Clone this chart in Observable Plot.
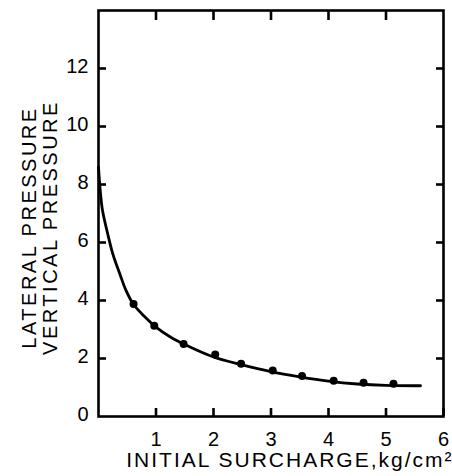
<!DOCTYPE html>
<html>
<head>
<meta charset="utf-8">
<script src="https://cdn.jsdelivr.net/npm/d3@7"></script>
<script src="https://cdn.jsdelivr.net/npm/@observablehq/plot@0.6"></script>
<style>
  html, body { margin: 0; padding: 0; background: #fff; }
</style>
</head>
<body>
<div id="chart"></div>
<script>
// Fitted curve
const curveX = [0.0, 0.03, 0.07, 0.16, 0.25, 0.37, 0.48, 0.61, 0.8, 1.0, 1.25, 1.5, 2.0, 2.5, 3.0, 3.5, 4.0, 4.5, 5.0, 5.6];
const curveY = [8.6, 7.8, 7.1, 6.3, 5.6, 4.92, 4.34, 3.86, 3.45, 3.08, 2.74, 2.48, 2.05, 1.78, 1.55, 1.37, 1.22, 1.12, 1.07, 1.06];
// Measured points
const pointX = [0.61, 0.97, 1.48, 2.03, 2.48, 3.03, 3.54, 4.09, 4.61, 5.13];
const pointY = [3.88, 3.13, 2.5, 2.14, 1.82, 1.59, 1.4, 1.23, 1.16, 1.13];
// Ticks
const xTicks = [1, 2, 3, 4, 5, 6];
const xTicksTop = [1, 2, 3, 4, 5];
const yTicks = [0, 2, 4, 6, 8, 10, 12];
const yLabelLines = ["LATERAL PRESSURE", "VERTICAL PRESSURE"];
const xLabel = "INITIAL SURCHARGE,kg/cm\u00B2";

const curve = curveX.map((x, i) => ({x, y: curveY[i]}));
const points = pointX.map((x, i) => ({x, y: pointY[i]}));

const sw = 2.6;
const chart = Plot.plot({
  width: 452,
  height: 476,
  marginLeft: 98,
  marginRight: 9,
  marginTop: 10,
  marginBottom: 60,
  style: {fontFamily: "'Liberation Sans', Arial, sans-serif", fontSize: "20px", background: "#fff", color: "#000"},
  x: {domain: [0, 6], label: null},
  y: {domain: [0, 14], label: null},
  marks: [
    Plot.frame({stroke: "#000", strokeWidth: sw}),
    Plot.axisX({anchor: "bottom", ticks: xTicks, tickSize: -8, tickPadding: 23, tickFormat: d => String(d), strokeWidth: sw, fontSize: 20, label: null}),
    Plot.axisX({anchor: "top", ticks: xTicksTop, tickSize: -9, tickFormat: () => "", strokeWidth: sw, label: null}),
    Plot.axisY({anchor: "left", ticks: yTicks.filter(d => d > 0), tickSize: -8, tickFormat: () => "", strokeWidth: sw, label: null}),
    Plot.axisY({anchor: "left", ticks: yTicks, tickSize: 0, tickPadding: 10, tickFormat: d => String(d), fontSize: 20, label: null, dy: -2}),
    Plot.axisY({anchor: "right", ticks: yTicks.filter(d => d > 0), tickSize: -8, tickFormat: () => "", strokeWidth: sw, label: null}),
    Plot.line(curve, {x: "x", y: "y", stroke: "#000", strokeWidth: 2.8, curve: "catmull-rom"}),
    Plot.dot(points, {x: "x", y: "y", r: 4, fill: "#000", stroke: "none"}),
    Plot.text([yLabelLines[0]], {frameAnchor: "left", textAnchor: "middle", dx: -69, dy: 14, rotate: -90, fontSize: 20, fill: "#000"}),
    Plot.text([yLabelLines[1]], {frameAnchor: "left", textAnchor: "middle", dx: -48, dy: 14, rotate: -90, fontSize: 20, fill: "#000"}),
    Plot.text([xLabel], {frameAnchor: "bottom-right", dx: 10, dy: 44, textAnchor: "end", lineAnchor: "middle", fontSize: 21, fill: "#000"})
  ]
});
d3.select(chart).selectAll("text").each(function() {
  const t = this.textContent;
  if (yLabelLines.includes(t)) d3.select(this).style("letter-spacing", "2.5px");
  if (t === xLabel) d3.select(this).style("letter-spacing", "2px");
});
document.getElementById("chart").appendChild(chart);
</script>
</body>
</html>
